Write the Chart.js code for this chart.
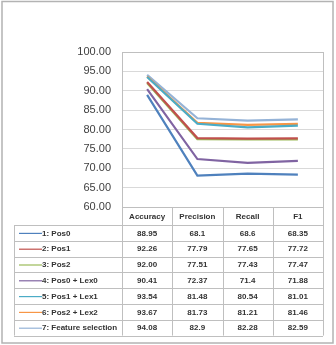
<!DOCTYPE html>
<html lang="en">
<head>
    <meta charset="UTF-8">
    <title>Feature set comparison</title>
    <script src="https://cdn.jsdelivr.net/npm/chart.js"></script>
    <style>
        body {
            margin: 0;
            padding: 0;
            background: #ffffff;
        }
        canvas {
            display: block;
        }
    </style>
</head>
<body>
    <canvas id="scoreChart" width="336" height="345"></canvas>

    <script>
        const categories = ['Accuracy', 'Precision', 'Recall', 'F1'];
        const seriesNames = [
            '1: Pos0',
            '2: Pos1',
            '3: Pos2',
            '4: Pos0 + Lex0',
            '5: Pos1 + Lex1',
            '6: Pos2 + Lex2',
            '7: Feature selection',
        ];
        // values as printed in the data table
        const pos0 = ['88.95', '68.1', '68.6', '68.35'];
        const pos1 = ['92.26', '77.79', '77.65', '77.72'];
        const pos2 = ['92.00', '77.51', '77.43', '77.47'];
        const pos0Lex0 = ['90.41', '72.37', '71.4', '71.88'];
        const pos1Lex1 = ['93.54', '81.48', '80.54', '81.01'];
        const pos2Lex2 = ['93.67', '81.73', '81.21', '81.46'];
        const featureSel = ['94.08', '82.9', '82.28', '82.59'];
        const yTicks = [60, 65, 70, 75, 80, 85, 90, 95, 100];

        const seriesValues = [pos0, pos1, pos2, pos0Lex0, pos1Lex1, pos2Lex2, featureSel];
        const colors = ['#4f81bd', '#c0504d', '#9bbb59', '#8064a2', '#4bacc6', '#f79646', '#95b3d7'];
        const fontFamily = '"Liberation Sans", Arial, sans-serif';

        // plot frame + outer border, drawn under the lines
        const framePlugin = {
            id: 'frame',
            beforeDatasetsDraw(chart) {
                const { ctx, chartArea: a } = chart;
                ctx.save();
                ctx.strokeStyle = '#bfbfbf';
                ctx.lineWidth = 1;
                ctx.strokeRect(a.left + 0.5, a.top + 0.5, a.right - a.left, a.bottom - a.top);
                ctx.restore();
            },
            afterDraw(chart) {
                const ctx = chart.ctx;
                ctx.save();
                ctx.strokeStyle = '#b3b3b3';
                ctx.lineWidth = 1.5;
                ctx.strokeRect(2, 1.5, 331, 341.5);
                ctx.restore();
            },
        };

        // Excel-style data table under the plot
        const tablePlugin = {
            id: 'dataTable',
            afterDraw(chart) {
                const { ctx, chartArea: a, scales } = chart;
                const colW = (a.right - a.left) / categories.length;
                const top = a.bottom;
                const headerH = 18;
                const rowH = 15.8;
                const left = 14;
                const bottom = top + headerH + rowH * seriesNames.length;

                ctx.save();
                ctx.strokeStyle = '#bfbfbf';
                ctx.lineWidth = 1;
                ctx.beginPath();
                for (let i = 0; i <= categories.length; i++) {
                    const x = Math.round(a.left + i * colW) + 0.5;
                    ctx.moveTo(x, top);
                    ctx.lineTo(x, bottom);
                }
                ctx.moveTo(left + 0.5, top + headerH);
                ctx.lineTo(left + 0.5, bottom);
                for (let r = 0; r <= seriesNames.length; r++) {
                    const y = Math.round(top + headerH + r * rowH) + 0.5;
                    ctx.moveTo(left, y);
                    ctx.lineTo(a.right, y);
                }
                ctx.stroke();

                ctx.fillStyle = '#333333';
                ctx.font = 'bold 8px ' + fontFamily;
                ctx.textAlign = 'center';
                ctx.textBaseline = 'middle';
                categories.forEach((c, i) => {
                    ctx.fillText(c, scales.x.getPixelForValue(i), top + headerH / 2 + 1);
                });

                seriesNames.forEach((name, r) => {
                    const y = top + headerH + r * rowH + rowH / 2 + 0.5;
                    ctx.strokeStyle = colors[r];
                    ctx.lineWidth = 1.2;
                    ctx.beginPath();
                    ctx.moveTo(19, y);
                    ctx.lineTo(42, y);
                    ctx.stroke();
                    ctx.textAlign = 'left';
                    ctx.fillText(name, 42, y);
                    ctx.textAlign = 'center';
                    seriesValues[r].forEach((v, i) => {
                        ctx.fillText(v, scales.x.getPixelForValue(i), y);
                    });
                });
                ctx.restore();
            },
        };

        const ctx = document.getElementById('scoreChart').getContext('2d');
        const scoreChart = new Chart(ctx, {
            type: 'line',
            data: {
                labels: categories,
                datasets: seriesNames.map((name, i) => ({
                    label: name,
                    data: seriesValues[i].map(Number),
                    borderColor: colors[i],
                    backgroundColor: colors[i],
                    borderWidth: 2.2,
                    pointRadius: 0,
                    tension: 0,
                })),
            },
            options: {
                responsive: false,
                animation: false,
                devicePixelRatio: 1,
                layout: {
                    padding: { top: 52, right: 13, bottom: 138, left: 0 },
                },
                plugins: {
                    legend: { display: false },
                    tooltip: { enabled: false },
                },
                scales: {
                    x: {
                        type: 'category',
                        offset: true,
                        display: false,
                    },
                    y: {
                        min: yTicks[0],
                        max: yTicks[yTicks.length - 1],
                        afterBuildTicks: (scale) => {
                            scale.ticks = yTicks.map((v) => ({ value: v }));
                        },
                        afterFit: (scale) => {
                            scale.width = 122;
                        },
                        border: { display: false },
                        grid: {
                            color: '#d9d9d9',
                            drawTicks: false,
                        },
                        ticks: {
                            padding: 11,
                            color: '#404040',
                            font: { family: fontFamily, size: 11 },
                            callback: (value) => Number(value).toFixed(2),
                        },
                    },
                },
            },
            plugins: [framePlugin, tablePlugin],
        });
    </script>
</body>
</html>
